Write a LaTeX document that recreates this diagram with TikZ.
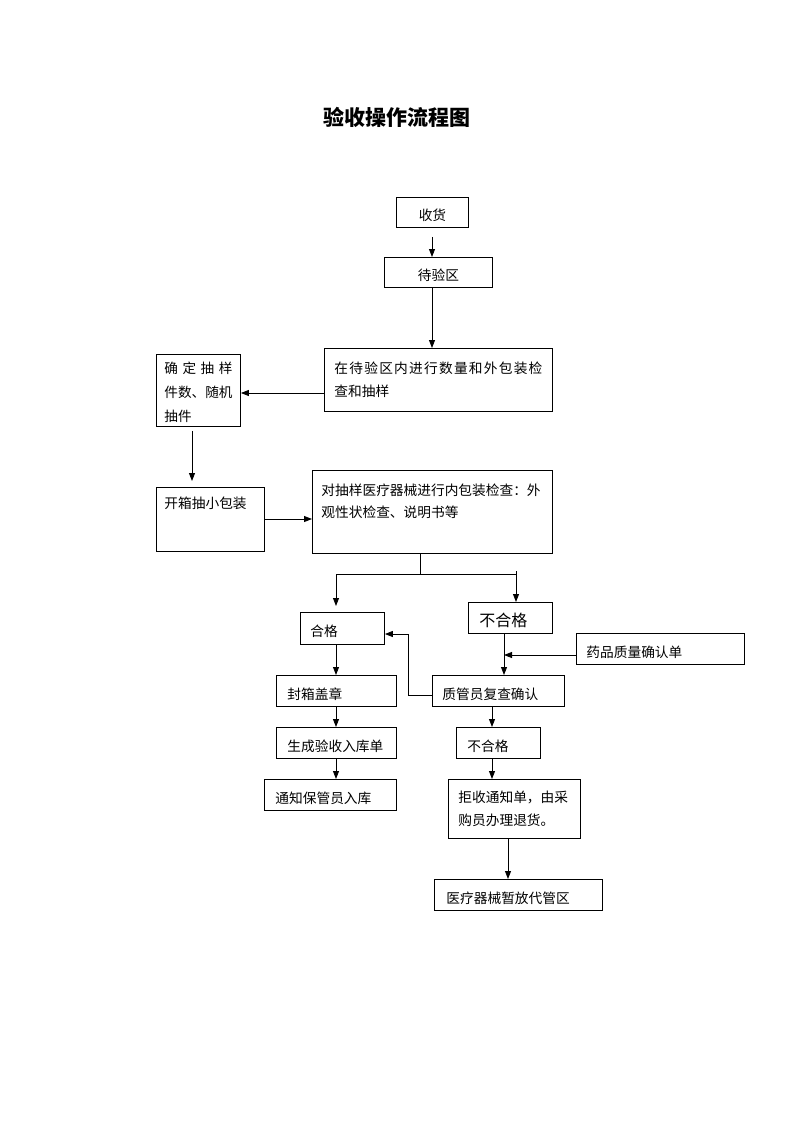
\documentclass[tikz,border=0pt]{standalone}
\usepackage{fontspec}
\setmainfont{Noto Sans CJK SC}
\usetikzlibrary{arrows.meta}
\begin{document}
\begin{tikzpicture}[x=1pt,y=-1pt,
  box/.style={draw, line width=0.9pt, anchor=north west, inner ysep=0pt, align=left,
    font=\fontsize{13.7}{23}\selectfont},
  one/.style={text height=18pt, text depth=1.6pt},
  arr/.style={line width=0.9pt, -{Triangle[length=8pt,width=6pt]}},
  ln/.style={line width=0.9pt}]
\useasboundingbox (0,0) rectangle (793,1122);
\node[font=\fontsize{21}{24}\selectfont\bfseries] (title) at (397,117) {验收操作流程图};
% boxes
\node[box, one, minimum width=72, minimum height=30, text width=56, inner xsep=8, align=center] (a) at (396,197) {收货};
\node[box, one, minimum width=108, minimum height=30, text width=92, inner xsep=8, align=center] (b) at (384,257) {待验区};
\node[box, minimum width=228, minimum height=63, text width=208, inner xsep=10] (c) at (324,348)
  {\makebox[208pt][s]{在\hfill 待\hfill 验\hfill 区\hfill 内\hfill 进\hfill 行\hfill 数\hfill 量\hfill 和\hfill 外\hfill 包\hfill 装\hfill 检}\\查和抽样};
\node[box, minimum width=84, minimum height=72, text width=68, inner xsep=8,
  font=\fontsize{13.6}{24}\selectfont] (d) at (156,354)
  {\parbox[c][66pt][c]{68pt}{\vspace{4pt}\makebox[68pt][s]{确\hfill 定\hfill 抽\hfill 样}\\件数、随机\\抽件}};
\node[box, minimum width=108, minimum height=64, text width=92, inner xsep=8] (e) at (156,487)
  {\parbox[c][58pt][t]{92pt}{\vspace{6pt}开箱抽小包装}};
\node[box, minimum width=240, minimum height=83, text width=222, inner xsep=9,
  font=\fontsize{13.7}{22}\selectfont] (f) at (312,470)
  {\parbox[c][76pt][t]{222pt}{\vspace{10pt}对抽样医疗器械进行内包装检查：外\\观性状检查、说明书等}};
\node[box, one, minimum width=84, minimum height=32, text width=64, inner xsep=10] (g) at (300,612) {合格};
\node[box, minimum width=84, minimum height=31, text width=62, inner xsep=11,
  font=\fontsize{16}{20}\selectfont, text height=19pt, text depth=1.8pt] (h) at (468,602) {不合格};
\node[box, one, minimum width=168, minimum height=31, text width=148, inner xsep=10] (i) at (576,633) {药品质量确认单};
\node[box, one, minimum width=120, minimum height=31, text width=98, inner xsep=11] (j) at (276,675) {封箱盖章};
\node[box, one, minimum width=132, minimum height=31, text width=112, inner xsep=10] (k) at (432,675) {质管员复查确认};
\node[box, one, minimum width=120, minimum height=31, text width=98, inner xsep=11] (l) at (276,727) {生成验收入库单};
\node[box, one, minimum width=84, minimum height=31, text width=62, inner xsep=11] (m) at (456,727) {不合格};
\node[box, one, minimum width=132, minimum height=31, text width=110, inner xsep=11] (n) at (264,779) {通知保管员入库};
\node[box, minimum width=132, minimum height=59, text width=112, inner xsep=10] (o) at (448,779) {拒收通知单，由采\\购员办理退货。};
\node[box, one, minimum width=168, minimum height=31, text width=144, inner xsep=12] (p) at (434,879) {医疗器械暂放代管区};
% connectors
\draw[arr, shorten <=9pt] (a.south -| 432,0) -- (b.north -| 432,0);
\draw[arr] (b.south -| 432,0) -- (c.north -| 432,0);
\draw[arr] (c.west |- 0,393) -- (d.east |- 0,393);
\draw[arr, shorten <=4pt, shorten >=6pt] (d.south -| 192,0) -- (e.north -| 192,0);
\draw[arr] (e.east |- 0,519) -- (f.west |- 0,519);
\coordinate (sp) at (420,574);
\draw[ln] (f.south -| sp) -- (sp);
\draw[ln] (336,574) -- (516,574);
\draw[arr, shorten >=6pt] (336,574) -- (g.north -| 336,0);
\draw[arr] (516,571) -- (h.north -| 516,0);
\draw[arr] (h.south -| 504,0) -- (k.north -| 504,0);
\draw[arr] (i.west |- 0,655) -- (504,655);
\draw[arr] (k.west |- 0,695) -- (408,695) -- (408,634) -- (g.east |- 0,634);
\draw[arr] (g.south -| 336,0) -- (j.north -| 336,0);
\draw[arr] (j.south -| 336,0) -- (l.north -| 336,0);
\draw[arr] (l.south -| 336,0) -- (n.north -| 336,0);
\draw[arr] (k.south -| 492,0) -- (m.north -| 492,0);
\draw[arr] (m.south -| 492,0) -- (o.north -| 492,0);
\draw[arr] (o.south -| 508,0) -- (p.north -| 508,0);
\end{tikzpicture}
\end{document}
